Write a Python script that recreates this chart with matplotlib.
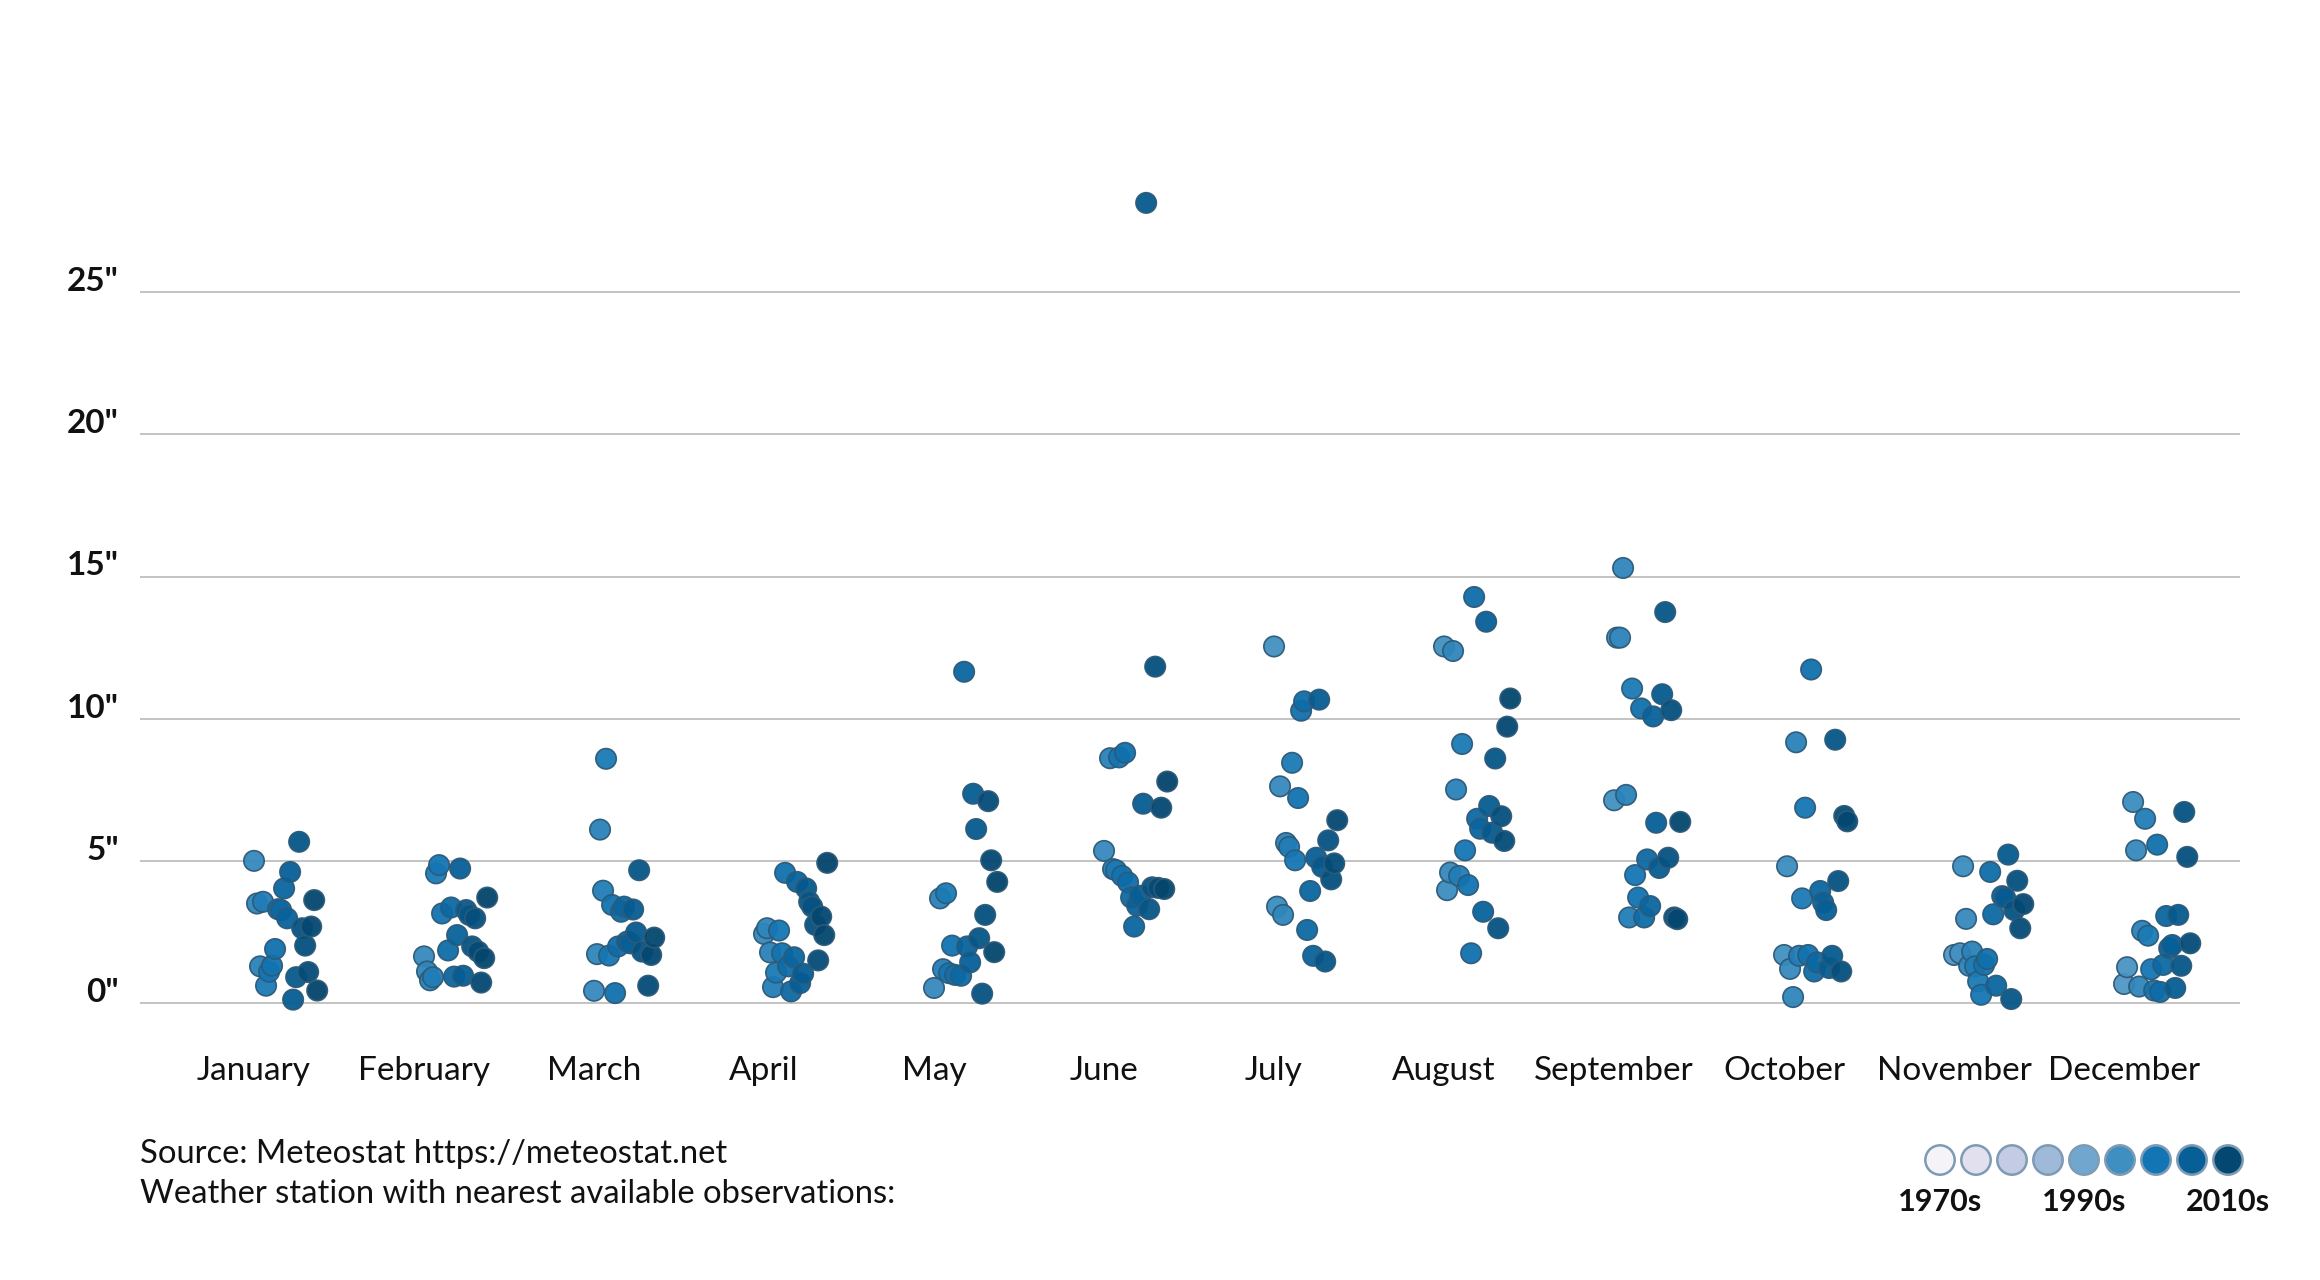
import numpy as np
import matplotlib.pyplot as plt
from matplotlib.colors import LinearSegmentedColormap, Normalize
from matplotlib import transforms

plt.rcParams['font.family'] = ['Lato', 'DejaVu Sans']

months = ['January', 'February', 'March', 'April', 'May', 'June',
          'July', 'August', 'September', 'October', 'November', 'December']

# first year of each monthly series, then one value per year (None = no data)
first_year = [1992, 1992, 1992, 1992, 1992, 1992, 1990, 1990, 1990, 1990, 1988, 1988]

rain_jan = [5.00, 3.50, 1.29, 3.56, 0.61, 1.10, 1.31, 1.90, 3.30, 3.27, 4.03,
            2.98, 4.61, 0.12, 0.91, 5.67, 2.63, 2.02, 1.09, 2.69, 3.62, 0.44]
rain_feb = [1.64, 1.11, 0.80, 0.91, 4.56, 4.85, 3.15, None, 1.85, 3.36, 0.93,
            2.39, 4.73, 0.96, 3.27, 3.10, 1.99, 2.98, 1.81, 0.72, 1.58, 3.71]
rain_mar = [0.43, 1.72, 6.10, 3.95, 8.59, 1.67, 3.45, 0.35, 1.99, 3.21, 3.39,
            2.16, 2.10, 3.29, 2.48, 4.67, 1.81, None, 0.61, 1.69, 2.30]
rain_apr = [2.43, 2.63, 1.78, 0.56, 1.07, 2.55, 1.75, 4.58, 1.29, 0.41, 1.61,
            4.26, 0.70, 1.03, 4.03, 3.56, 3.39, 2.75, 1.50, 3.04, 2.39, 4.93]
rain_may = [0.53, None, 3.68, 1.19, 3.86, 1.05, 2.02, 0.99, None, 0.96, 11.65,
            1.99, 1.43, 7.36, 6.12, 2.28, 0.33, 3.10, 7.10, 5.02, 1.79, 4.26]
rain_jun = [5.35, None, 8.61, 4.71, 4.67, 8.64, 4.47, 8.80, 4.24, 3.71, 2.69,
            3.42, 3.77, 7.01, 28.14, 3.30, 4.07, 11.83, 4.05, 6.87, 4.01, 7.79]
rain_jul = [12.54, 3.39, 7.62, 3.10, 5.63, 5.49, 8.45, 5.02, 7.21, 10.28, 10.61,
            2.57, 3.94, 1.66, 5.11, 10.67, 4.79, 1.46, 5.72, 4.35, 4.91, 6.43]
rain_aug = [12.54, 3.97, 4.59, 12.38, 7.51, 4.47, 9.11, 5.37, 4.15, 1.75, 14.28,
            6.48, 6.13, 3.21, 13.41, 6.93, 5.99, 8.60, 2.63, 6.57, 5.70, 9.72, 10.71]
rain_sep = [7.13, 12.85, 12.85, 15.30, 7.32, 3.01, 11.06, 4.50, 3.71, 10.36, 3.01,
            5.05, 3.41, 10.08, 6.34, 4.75, 10.86, 13.75, 5.11, 10.30, 3.01, 2.95, 6.37]
rain_oct = [1.69, 4.81, 1.20, 0.21, 9.17, 1.66, 3.68, 6.87, 1.69, 11.73, 1.11,
            1.43, 3.94, 3.53, 3.27, 1.23, 1.66, 9.26, 4.29, 1.11, 6.58, 6.39]
rain_nov = [1.69, None, 1.75, 4.81, 2.96, 1.31, 1.81, 1.29, 0.76, 0.29, 1.34, 1.55,
            4.61, 3.12, 0.61, None, 3.76, 3.70, 5.22, 0.14, 3.27, 4.30, 2.63, 3.48]
rain_dec = [0.67, 1.26, None, 7.07, 5.37, 0.58, 2.54, 6.48, 2.37, 1.19, 0.44,
            5.57, 0.39, 1.34, 3.06, 1.93, 2.04, 0.53, 3.10, 1.31, 6.72, 5.14, 2.10]

rain = [rain_jan, rain_feb, rain_mar, rain_apr, rain_may, rain_jun,
        rain_jul, rain_aug, rain_sep, rain_oct, rain_nov, rain_dec]

y_ticks = [0, 5, 10, 15, 20, 25]
y_labels = ['0"', '5"', '10"', '15"', '20"', '25"']

legend_years = [1970, 1975, 1980, 1985, 1990, 1995, 2000, 2005, 2010]
legend_colors = ['#f5f2f8', '#e2e0ef', '#c4cbe4', '#9fbad8', '#71a7cf',
                 '#3f8fc0', '#1375b3', '#065f97', '#044872']
legend_text = {1970: '1970s', 1990: '1990s', 2010: '2010s'}

source_lines = ['Source: Meteostat https://meteostat.net',
                'Weather station with nearest available observations:']

cmap = LinearSegmentedColormap.from_list('decades', legend_colors + ['#023858'])
norm = Normalize(vmin=1956, vmax=2018)
year_step = 0.0177   # horizontal shift per year inside a month

fig = plt.figure(figsize=(11.6, 6.4), dpi=200)
fig.patch.set_facecolor('white')
ax = fig.add_axes([140 / 2320, 1 - 1040 / 1280, 2100 / 2320, 890 / 1280])

for i, vals in enumerate(rain):
    ks = [k for k, v in enumerate(vals) if v is not None]
    vs = [vals[k] for k in ks]
    yrs = np.array([first_year[i] + k for k in ks])
    xs = [i + k * year_step for k in ks]
    ax.scatter(xs, vs, s=54, c=cmap(norm(yrs)), alpha=0.95,
               edgecolors='#2d5a78', linewidths=0.6, zorder=3)

ax.set_xlim(-0.6706, 11.682)
ax.set_ylim(-1.3, 30)
ax.set_yticks(y_ticks)
ax.set_yticklabels([])
ax.grid(axis='y', color='#b9b9b9', linewidth=0.6)
ax.set_axisbelow(True)
ax.tick_params(axis='y', length=0)
ax.tick_params(axis='x', length=0, pad=5.8)
ax.set_xticks(range(12))
ax.set_xticklabels(months, fontsize=12, color='#111111')
for s in ax.spines.values():
    s.set_visible(False)

trans = transforms.blended_transform_factory(ax.transAxes, ax.transData)
for v, lab in zip(y_ticks, y_labels):
    ax.text(-0.0100, v + 0.04, lab, transform=trans, ha='right', va='baseline',
            fontsize=12, fontweight='bold', color='#111111')

fig.text(140 / 2320, 1 - 1154 / 1280, source_lines[0], fontsize=11.8,
         va='center', color='#111111')
fig.text(140 / 2320, 1 - 1194 / 1280, source_lines[1], fontsize=11.8,
         va='center', color='#111111')

lax = fig.add_axes([1922 / 2320, 1 - 1225 / 1280, 324 / 2320, 90 / 1280])
lax.set_xlim(-0.5, 8.5)
lax.set_ylim(0, 1)
lax.axis('off')
lx = list(range(len(legend_years)))
lax.scatter(lx, [0.722] * len(lx), s=112, c=legend_colors,
            edgecolors='#7d9bb3', linewidths=0.9)
for k, yr in enumerate(legend_years):
    if yr in legend_text:
        lax.text(k, 0.256, legend_text[yr], ha='center', va='center',
                 fontsize=11, fontweight='bold', color='#111111')

fig.savefig('out.png', dpi=200, facecolor='white')
